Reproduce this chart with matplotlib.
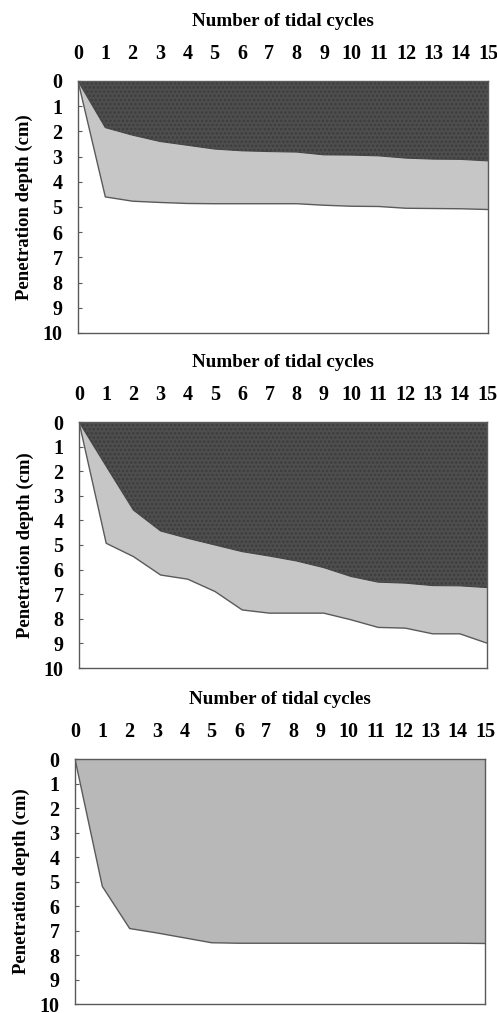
import matplotlib
matplotlib.use("Agg")
import matplotlib.pyplot as plt
import numpy as np

plt.rcParams['font.family'] = ['Liberation Serif', 'DejaVu Serif']
plt.rcParams['font.weight'] = 'bold'
plt.rcParams['hatch.linewidth'] = 1.2

# tidal cycles
cycles = list(range(16))

# panel 1: dark layer boundary and light layer boundary (cm)
p1_dark = [0, 1.85, 2.15, 2.4, 2.55, 2.7, 2.77, 2.8, 2.82, 2.93, 2.94, 2.97, 3.06, 3.1, 3.11, 3.17]
p1_light = [0, 4.6, 4.77, 4.82, 4.86, 4.87, 4.87, 4.87, 4.87, 4.93, 4.97, 4.98, 5.05, 5.06, 5.07, 5.1]

# panel 2
p2_dark = [0, 1.8, 3.58, 4.43, 4.73, 5.0, 5.27, 5.45, 5.65, 5.92, 6.28, 6.51, 6.55, 6.65, 6.66, 6.73]
p2_light = [0, 4.93, 5.47, 6.22, 6.39, 6.89, 7.64, 7.77, 7.77, 7.77, 8.04, 8.35, 8.38, 8.61, 8.61, 8.99]

# panel 3 (single layer)
p3_light = [0, 5.2, 6.92, 7.1, 7.3, 7.5, 7.52, 7.52, 7.52, 7.52, 7.52, 7.52, 7.52, 7.52, 7.52, 7.53]

dark_col = "#4e4e4e"
light_col = "#c6c6c6"
light3_col = "#b8b8b8"
edge_col = "#5a5a5a"

fig = plt.figure(figsize=(4.97, 10.13), dpi=100)

W, H = 497, 1013
boxes = [(78, 81, 488, 333), (79, 422, 487, 668), (75, 759, 485, 1004)]

def make_axes(box):
    l, t, r, b = box
    return fig.add_axes([l / W, (H - b) / H, (r - l) / W, (b - t) / H])

def style(ax):
    ax.set_xlim(0, 15)
    ax.set_ylim(10, 0)
    ax.xaxis.tick_top()
    ax.xaxis.set_label_position('top')
    ax.set_xticks(cycles)
    ax.set_yticks(range(11))
    ax.tick_params(axis='x', length=0, pad=12, labelsize=14.5)
    ax.tick_params(axis='y', direction='in', length=3, pad=11, labelsize=14.5, color=edge_col)
    ax.set_xlabel("Number of tidal cycles", fontsize=13.7, fontweight='bold', labelpad=13)
    ax.set_ylabel("Penetration depth (cm)", fontsize=13.5, fontweight='bold', labelpad=7)
    for s in ax.spines.values():
        s.set_color(edge_col)
        s.set_linewidth(1.0)

panels = [(p1_dark, p1_light), (p2_dark, p2_light)]
for box, (dk, lt) in zip(boxes[:2], panels):
    ax = make_axes(box)
    ax.fill_between(cycles, dk, lt, facecolor=light_col, edgecolor='none')
    ax.fill_between(cycles, 0, dk, facecolor=dark_col, edgecolor='#3c3c3c', hatch='....', linewidth=0)
    ax.plot(cycles, dk, color="#444444", lw=0.8)
    ax.plot(cycles, lt, color=edge_col, lw=1.0)
    style(ax)

ax = make_axes(boxes[2])
ax.fill_between(cycles, 0, p3_light, facecolor=light3_col, edgecolor='none')
ax.plot(cycles, p3_light, color=edge_col, lw=1.0)
style(ax)

fig.savefig("out.png", dpi=100)
